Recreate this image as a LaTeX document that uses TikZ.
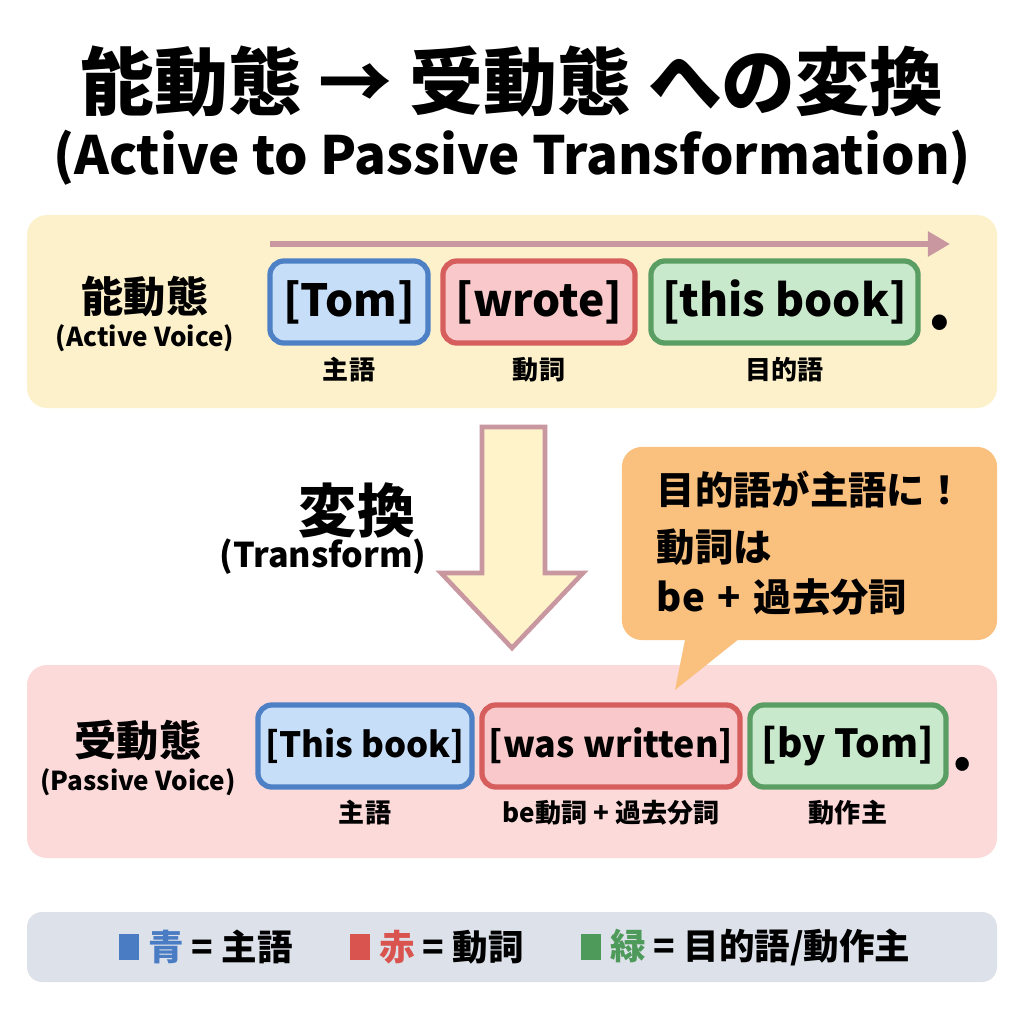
\documentclass[tikz,border=0pt]{standalone}
\usepackage{fontspec}
\setmainfont{Noto Sans CJK JP}
\usepackage{xcolor}
\usetikzlibrary{arrows.meta,calc,positioning}

\definecolor{activebg}{HTML}{FDF1CC}
\definecolor{passivebg}{HTML}{FCDADA}
\definecolor{keybg}{HTML}{DDE2EA}
\definecolor{notefill}{HTML}{FAC07E}
\definecolor{flowcol}{HTML}{C9979F}
\definecolor{shaftfill}{HTML}{FEF3C9}
\definecolor{subjfill}{HTML}{C6DEF8}
\definecolor{subjline}{HTML}{4E80C6}
\definecolor{verbfill}{HTML}{F9C8CA}
\definecolor{verbline}{HTML}{D65F5E}
\definecolor{objfill}{HTML}{C9E9CC}
\definecolor{objline}{HTML}{5B9E64}
\definecolor{legblue}{HTML}{4A7CC4}
\definecolor{legred}{HTML}{D9534F}
\definecolor{leggreen}{HTML}{4E9A5A}

\newcommand{\fs}[1]{\fontsize{#1}{1.2\dimexpr#1pt\relax}\selectfont\bfseries}

\tikzset{
  wordbox/.style={draw,rounded corners=0.14cm,line width=1.5pt,minimum height=0.82cm,inner sep=0pt},
  subj/.style={wordbox,draw=subjline,fill=subjfill},
  verb/.style={wordbox,draw=verbline,fill=verbfill},
  obj/.style={wordbox,draw=objline,fill=objfill},
  role/.style={inner sep=0pt,font=\fs{7.4}},
  panel/.style={rounded corners=0.2cm}
}

\begin{document}
\begin{tikzpicture}[x=0.01cm,y=-0.01cm]
  \fill[white] (0,0) rectangle (1024,1024);
  \useasboundingbox (0,0) rectangle (1024,1024);

  % title
  \node (title) at (512,82) {\fs{21}能動態 → 受動態 への変換};
  \node (subtitle) at (512,158) {\fs{15}(Active to Passive Transformation)};

  % panels
  \fill[panel,activebg] (27,215) rectangle (997,408);
  \fill[panel,passivebg] (27,665) rectangle (997,858);
  \fill[rounded corners=0.15cm,keybg] (27,912) rectangle (997,982);

  % active sentence
  \coordinate (flowstart) at (270,244);
  \coordinate (flowend) at (950,244);
  \draw[flowcol,line width=1.5pt,-{Triangle[length=0.22cm,width=0.24cm]}] (flowstart) -- (flowend);
  \node (actlabel) at (145,297) {\fs{12}能動態};
  \node (actsub) at (145,338) {\fs{7.4}(Active Voice)};
  \node (tom) [subj,minimum width=1.58cm,font=\fs{12.6}] at (349,302) {[Tom]};
  \node (wrote) [verb,minimum width=1.92cm,font=\fs{12.6}] at (539,302) {[wrote]};
  \node (thisbook) [obj,minimum width=2.67cm,font=\fs{12.6}] at (784.5,302) {[this book]};
  \node (actdot) at (940,323) {\fs{20}.};
  \node [role,below=0.11cm of tom] {主語};
  \node [role,below=0.11cm of wrote] {動詞};
  \node [role,below=0.11cm of thisbook] {目的語};

  % transform arrow
  \draw[flowcol,fill=shaftfill,line width=1.3pt,line join=miter]
    (482,427) -- (545,427) -- (545,573) -- (583,573) -- (512,648)
    -- (441,573) -- (482,573) -- cycle;
  \node (change) at (357,510) {\fs{16.5}変換};
  \node (changesub) at (323,557) {\fs{9.7}(Transform)};

  % callout
  \node (note) [fill=notefill,rounded corners=0.2cm,minimum width=3.75cm,
    minimum height=1.93cm,text width=3.05cm,align=left,inner sep=0pt,
    font=\fontsize{10.9}{14.2}\selectfont\bfseries] at (809.5,543.5)
    {目的語が主語に！\\[2pt]動詞は\\be + 過去分詞};
  \coordinate (notetip) at (675,690);
  \fill[notefill] ($(note.south west)+(64,-2)$) -- (notetip)
    -- ($(note.south west)+(118,-2)$) -- cycle;

  % passive sentence
  \node (paslabel) at (138,740) {\fs{12}受動態};
  \node (passub) at (138,782) {\fs{7.4}(Passive Voice)};
  \node (pasbook) [subj,minimum width=2.14cm,font=\fs{9.9}] at (365,746) {[This book]};
  \node (written) [verb,minimum width=2.58cm,font=\fs{10.2}] at (611,746) {[was written]};
  \node (bytom) [obj,minimum width=1.96cm,font=\fs{11}] at (848,746) {[by Tom]};
  \node (pasdot) at (963,764) {\fs{18}.};
  \node [role,below=0.1cm of pasbook] {主語};
  \node [role,below=0.1cm of written] {be動詞 + 過去分詞};
  \node [role,below=0.1cm of bytom] {動作主};

  % key
  \foreach \x/\col/\word/\gloss in {118/legblue/青/主語,349/legred/赤/動詞,580/leggreen/緑/{目的語/動作主}}{
    \node (key-\col) [fill=\col,minimum width=0.2cm,minimum height=0.26cm,inner sep=0pt,anchor=west] at (\x,947) {};
    \node [right=0.08cm of key-\col,inner sep=0pt,font=\fs{10.1}] {\textcolor{\col}{\word} = \gloss};
  }
\end{tikzpicture}
\end{document}
